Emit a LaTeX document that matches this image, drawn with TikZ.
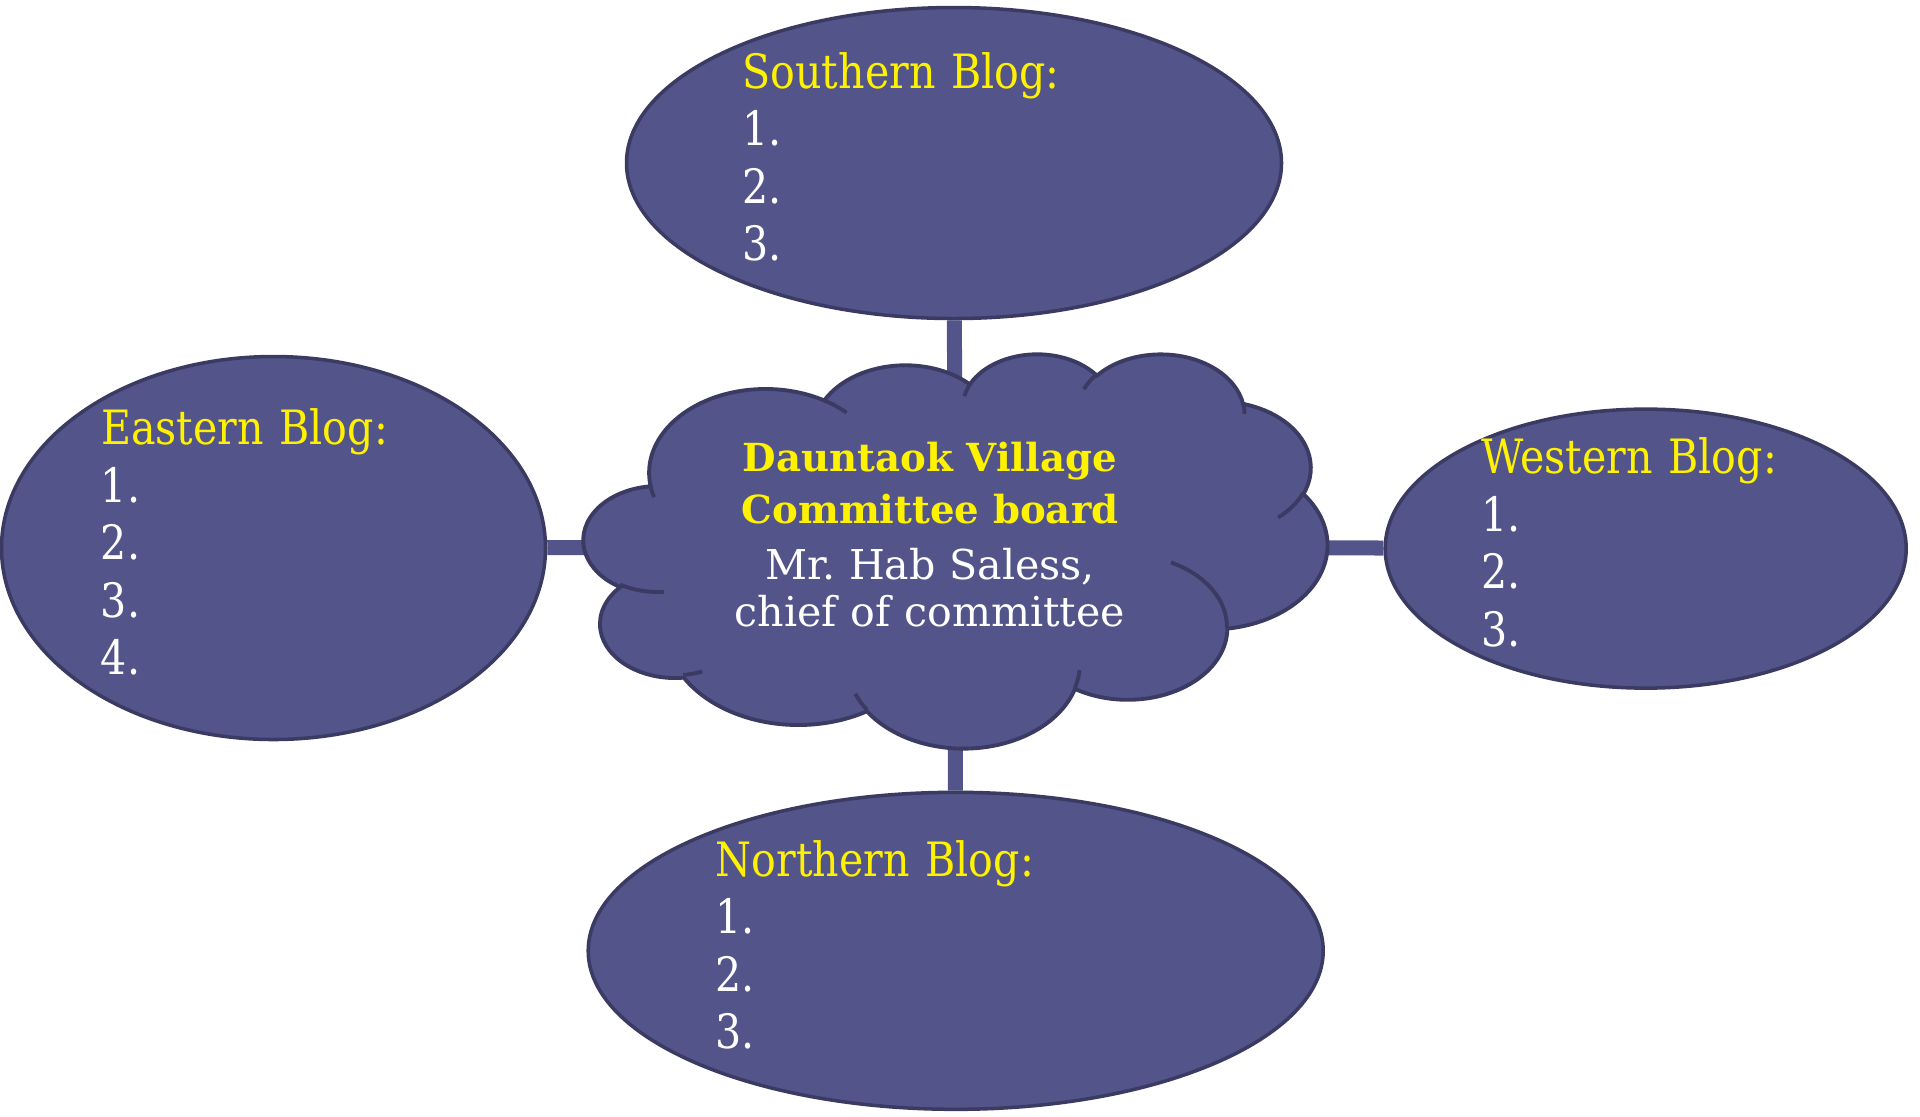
\documentclass[tikz,border=0pt]{standalone}
\usepackage{fontspec}
\setmainfont{DejaVu Serif}
\newfontfamily\blogfont[FakeStretch=0.87]{DejaVu Serif}
\usepackage{tikz}
\usetikzlibrary{shapes.geometric}
\usetikzlibrary{backgrounds}

\definecolor{blogfill}{RGB}{83,84,138}
\definecolor{blogline}{RGB}{58,58,98}

\begin{document}
\begin{tikzpicture}[
        blog/.style={ellipse,draw=blogline,fill=blogfill,line width=1pt,inner sep=0pt},
        bloglist/.style={text=white,align=left,inner sep=0pt,
            font=\blogfont\fontsize{13.46pt}{16.36pt}\selectfont,
            execute at begin node=\strut,execute at end node=\strut},
        boardtext/.style={text=white,align=center,text width=4.2cm,inner sep=0pt,
            font=\fontsize{11.7pt}{13.3pt}\selectfont},
        cloudbox/.style={draw=blogline,fill=blogfill,line width=1.1pt},
        cloudline/.style={draw=blogline,line width=1.1pt},
        link/.style={draw=blogfill,line width=4.27pt}
    ]
        \useasboundingbox (0,0) rectangle (19.2,-11.16);

        \node [blog,minimum width=6.55cm,minimum height=3.11cm] (sblog) at (9.54,-1.63) {};
        \node [blog,minimum width=5.44cm,minimum height=3.83cm] (eblog) at (2.735,-5.48) {};
        \node [blog,minimum width=5.21cm,minimum height=2.79cm] (wblog) at (16.457,-5.486) {};
        \node [blog,minimum width=7.35cm,minimum height=3.17cm] (nblog) at (9.557,-9.508) {};

        \node [bloglist,text width=4.23cm] (slist) at (sblog) {\textcolor{yellow}{Southern Blog:}\\1.\\2.\\3.};
        \node [bloglist,text width=3.45cm] (elist) at (eblog) {\textcolor{yellow}{Eastern Blog:}\\1.\\2.\\3.\\4.};
        \node [bloglist,text width=3.29cm] (wlist) at (wblog) {\textcolor{yellow}{Western Blog:}\\1.\\2.\\3.};
        \node [bloglist,text width=4.80cm] (nlist) at (nblog) {\textcolor{yellow}{Northern Blog:}\\1.\\2.\\3.};

        % cloud outline, arcs given as radius/radius/start/sweep
        \begin{scope}[shift={(5.83,-3.53)},x=0.017222cm,y=-0.0091204cm]
            \def\cloudpath{}
            \foreach \w/\h/\s/\d in {67.53/91.90/-190.4875/123.7805,53.33/72.67/-144.1024/89.9452,
                43.65/59.45/-145.8079/99.7230,48.57/65.95/-130.9861/117.2417,
                53.33/72.73/-78.7089/109.0269,67.75/92.20/-46.2673/130.2690,
                57.85/78.67/0.6250/114.0333,67.52/92.15/22.4516/115.1726,
                77.20/105.43/66.2426/74.9402,43.60/59.18/-274.9421/146.76,
                43.45/59.45/-246.8285/152.5263}{
                \pgfmathsetmacro\pa{atan2(\w*sin(\s),\h*cos(\s))}
                \pgfmathsetmacro\pb{atan2(\w*sin(\s+\d),\h*cos(\s+\d))}
                \pgfmathsetmacro\pb{\pb<\pa ? \pb+360 : \pb}
                \xdef\cloudpath{\cloudpath arc[start angle=\pa,end angle=\pb,x radius=\w,y radius=\h]}
            }
            \filldraw [cloudbox] (39,143.7) \cloudpath -- cycle;
            \foreach \x/\y/\w/\h/\s/\d in {46.93/261.77/43.45/59.45/86.7420/26.4295,
                69.28/348.99/43.60/59.18/73.6105/11.4475,164.78/390.90/67.52/92.15/137.6242/14.0811,
                288.27/347.51/67.52/92.15/6.4533/15.9984,341.29/229.54/57.85/78.67/-70.2924/70.9174,
                417.98/153.54/53.33/72.73/30.3180/27.7515,383.24/54.26/48.57/65.95/-13.7443/14.8512,
                290.78/39.52/48.57/65.95/-149.1815/18.1917,221.41/47.20/43.65/59.45/-163.4943/17.6881,
                140.00/51.92/67.53/91.90/-66.7070/12.3194,41.27/157.89/67.53/91.90/157.6544/11.8582}{
                \pgfmathsetmacro\pa{atan2(\w*sin(\s),\h*cos(\s))}
                \pgfmathsetmacro\pb{atan2(\w*sin(\s+\d),\h*cos(\s+\d))}
                \pgfmathsetmacro\pb{\pb<\pa ? \pb+360 : \pb}
                \draw [cloudline] (\x,\y) arc[start angle=\pa,end angle=\pb,x radius=\w,y radius=\h];
            }
        \end{scope}

        \node [boardtext] (board) at (9.30,-5.348) {{\color{yellow}\bfseries\fontsize{11pt}{14.6pt}\selectfont Dauntaok Village\\[1.3pt] Committee board}\\[2.9pt] Mr.\ Hab Saless,\\ chief of committee};
        \coordinate (hub) at (9.55,-5.47);

        \begin{pgfonlayer}{background}
            \draw [link] (sblog) -- (hub);
            \draw [link] (eblog) -- (hub);
            \draw [link] (wblog) -- (hub);
            \draw [link] (nblog) -- (hub);
        \end{pgfonlayer}
    \end{tikzpicture}
\end{document}
